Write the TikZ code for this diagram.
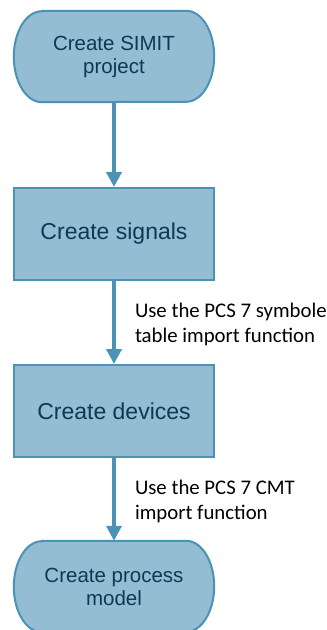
\documentclass[tikz,border=0pt]{standalone}
\usepackage{fontspec}
\setmainfont{Liberation Sans}
\newfontfamily\notefont{Carlito}
\usetikzlibrary{arrows.meta,backgrounds}
\definecolor{boxFill}{HTML}{94BCD3}
\definecolor{boxLine}{HTML}{4A93B4}
\definecolor{boxText}{HTML}{0D3A52}
\begin{document}
\begin{tikzpicture}
[x=1pt,y=-1pt,
  boxDecorate/.style={shape=rectangle,draw=boxLine,fill=boxFill,line width=2pt,%
    minimum width=200pt,minimum height=92pt,text=boxText,font=\fontsize{23}{27}\selectfont},%
  termDecorate/.style={shape=rectangle,minimum width=200pt,minimum height=91pt,%
    align=center,text=boxText,font=\fontsize{20.5}{23}\selectfont},%
  termLine/.style={draw=boxLine,fill=boxFill,line width=2pt},%
  lineDecorate/.style={draw=boxLine,line width=4pt,-{Triangle[width=15pt,length=15pt]}},%
  noteDecorate/.style={right=19pt,yshift=-2pt,inner sep=0pt,align=left,%
    font=\notefont\fontsize{20.8}{25}\selectfont}]
\useasboundingbox (0,0) rectangle (327,630);
%% start and end terminals
\foreach \nodename/\y/\txt in {simit/56.5/{Create SIMIT\\project}, model/586.5/{Create process\\model}}
{
  \node (\nodename) at (114,\y) [termDecorate] {\txt};
}
\begin{scope}[on background layer]
\foreach \nodename in {simit, model}
{
  \draw[termLine] ([xshift=28pt]\nodename.north west) -- ([xshift=-28pt]\nodename.north east)
    arc[start angle=90,end angle=-90,x radius=28pt,y radius=45.5pt]
    -- ([xshift=28pt]\nodename.south west)
    arc[start angle=270,end angle=90,x radius=28pt,y radius=45.5pt] -- cycle;
}
\end{scope}
%% process steps
\foreach \nodename/\y/\txt in {signals/234/Create signals, devices/411/Create devices}
{
  \node (\nodename) at (114,\y) [boxDecorate] {\txt};
}
%% edges or lines
\path (simit) edge[lineDecorate] (signals);
\path
\foreach \startnode/\endnode/\note in {signals/devices/{Use the PCS 7 symbole\\table import function},
  devices/model/{Use the PCS 7 CMT\\import function}}
{
  (\startnode) edge[lineDecorate] node[noteDecorate] {\note} (\endnode)
};
\end{tikzpicture}
\end{document}
